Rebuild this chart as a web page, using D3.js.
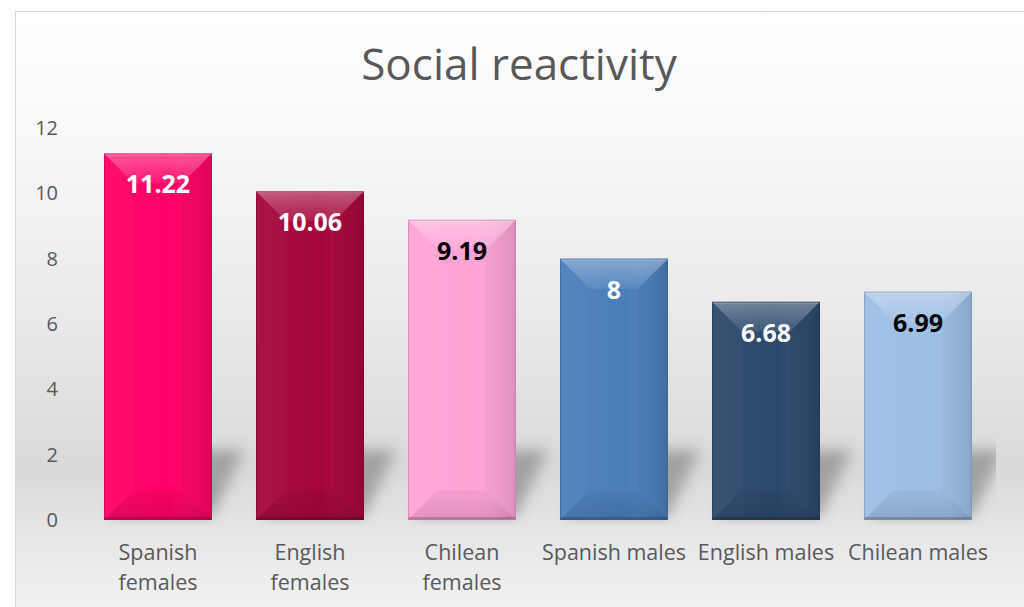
<!DOCTYPE html>
<html>
<head>
<meta charset="utf-8">
<script src="https://cdn.jsdelivr.net/npm/d3@7"></script>
<style>
  html, body { margin: 0; padding: 0; background: #ffffff; }
  svg { display: block; }
</style>
</head>
<body>
<script>
// ---- data ----
const categories = ["Spanish females", "English females", "Chilean females", "Spanish males", "English males", "Chilean males"];
const values = [11.22, 10.06, 9.19, 8, 6.68, 6.99];
const yTicks = [0, 2, 4, 6, 8, 10, 12];
const title = "Social reactivity";

// ---- styles ----
const barColors = ["#FF0066", "#A5053A", "#FFA3D7", "#4A7EBB", "#2B486B", "#9DBEE5"];
const labelColors = ["#ffffff", "#ffffff", "#000000", "#ffffff", "#ffffff", "#000000"];

const W = 1024, H = 607;
const svg = d3.select("body").append("svg").attr("width", W).attr("height", H);
const defs = svg.append("defs");

const bg = defs.append("linearGradient").attr("id", "bg").attr("x1", 0).attr("y1", 0).attr("x2", 0).attr("y2", 1);
[[0, "#ffffff"], [0.18, "#f9f9f9"], [0.5, "#e9e9e9"], [0.74, "#d9d9d9"], [0.86, "#e8e8e8"], [1, "#f4f4f4"]]
  .forEach(([o, c]) => bg.append("stop").attr("offset", o).attr("stop-color", c));

defs.append("filter").attr("id", "blur").attr("x", "-50%").attr("y", "-50%").attr("width", "200%").attr("height", "200%")
  .append("feGaussianBlur").attr("stdDeviation", 7);

const plotClip = defs.append("clipPath").attr("id", "plotclip");

// side gradient (subtle darkening to right)
const sideG = defs.append("linearGradient").attr("id", "side").attr("x1", 0).attr("y1", 0).attr("x2", 1).attr("y2", 0);
[[0, "#ffffff", 0.04], [0.6, "#ffffff", 0], [1, "#000000", 0.1]]
  .forEach(([o, c, a]) => sideG.append("stop").attr("offset", o).attr("stop-color", c).attr("stop-opacity", a));

const topG = defs.append("linearGradient").attr("id", "topbev").attr("x1", 0).attr("y1", 0).attr("x2", 0).attr("y2", 1);
[[0, "#ffffff", 0.32], [1, "#ffffff", 0.08]]
  .forEach(([o, c, a]) => topG.append("stop").attr("offset", o).attr("stop-color", c).attr("stop-opacity", a));
const botG = defs.append("linearGradient").attr("id", "botbev").attr("x1", 0).attr("y1", 0).attr("x2", 0).attr("y2", 1);
[[0, "#000000", 0.03], [1, "#000000", 0.12]]
  .forEach(([o, c, a]) => botG.append("stop").attr("offset", o).attr("stop-color", c).attr("stop-opacity", a));

// background + border
svg.append("rect").attr("x", 15.5).attr("y", 11.5).attr("width", 1040).attr("height", 620)
  .attr("fill", "url(#bg)").attr("stroke", "#d9d9d9").attr("stroke-width", 1);

const x = d3.scaleBand().domain(categories).range([82, 994]).paddingInner(0.29).paddingOuter(0.145);
const y = d3.scaleLinear().domain([0, 12]).range([520, 128]);

plotClip.append("rect").attr("x", 60).attr("y", 100).attr("width", 996 - 60).attr("height", 425);

// title
svg.append("text").attr("x", 519).attr("y", 80).attr("text-anchor", "middle")
  .attr("font-family", "'Open Sans', sans-serif").attr("font-size", 44).attr("fill", "#595959")
  .text(title);

// y axis (labels only)
const yAxis = d3.axisLeft(y).tickValues(yTicks).tickSize(0).tickPadding(0);
const yg = svg.append("g").attr("transform", "translate(58,0)").call(yAxis);
yg.select(".domain").remove();
yg.selectAll("text").attr("font-family", "'Open Sans', sans-serif").attr("font-size", 20).attr("fill", "#595959");

// shadows
const bw = x.bandwidth();
svg.append("g").attr("clip-path", "url(#plotclip)").selectAll("polygon").data(categories).join("polygon")
  .attr("points", (d, i) => {
    const x0 = x(d), x1 = x(d) + bw, yb = y(0) - 4, yt = y(0) - 70;
    return [[x0 + 6, yb], [x1, yb], [x1 + 32, yt], [x0 + 38, yt]].map(p => p.join(",")).join(" ");
  })
  .attr("fill", "#8a8a8a").attr("opacity", 0.7).attr("filter", "url(#blur)");

// bars
const bars = svg.append("g").selectAll("g").data(categories).join("g");
bars.each(function (d, i) {
  const g = d3.select(this);
  const x0 = x(d), x1 = x0 + bw, y0 = y(values[i]), y1 = y(0);
  const dd = Math.min(30, (y1 - y0) / 2);
  const c = barColors[i];
  g.append("rect").attr("x", x0).attr("y", y0).attr("width", bw).attr("height", y1 - y0).attr("fill", c);
  g.append("rect").attr("x", x0).attr("y", y0).attr("width", bw).attr("height", y1 - y0).attr("fill", "url(#side)");
  const poly = (pts, fill, op) => g.append("polygon").attr("points", pts.map(p => p.join(",")).join(" "))
    .attr("fill", fill).attr("opacity", op);
  // top bevel (lighter)
  poly([[x0, y0], [x1, y0], [x1 - dd, y0 + dd], [x0 + dd, y0 + dd]], "url(#topbev)", 1);
  // left bevel
  poly([[x0, y0], [x0 + dd, y0 + dd], [x0 + dd, y1 - dd], [x0, y1]], "#ffffff", 0.02);
  // right bevel
  poly([[x1, y0], [x1 - dd, y0 + dd], [x1 - dd, y1 - dd], [x1, y1]], "#000000", 0.03);
  // bottom bevel
  poly([[x0, y1], [x1, y1], [x1 - dd, y1 - dd], [x0 + dd, y1 - dd]], "url(#botbev)", 1);
  // top highlight line
  g.append("rect").attr("x", x0).attr("y", y0).attr("width", bw).attr("height", 2).attr("fill", "#ffffff").attr("opacity", 0.2);
  // bottom dark line
  g.append("rect").attr("x", x0).attr("y", y1 - 3).attr("width", bw).attr("height", 3).attr("fill", "#000000").attr("opacity", 0.18);
  // outline
  g.append("rect").attr("x", x0 + 0.5).attr("y", y0 + 0.5).attr("width", bw - 1).attr("height", y1 - y0 - 1)
    .attr("fill", "none").attr("stroke", d3.color(c).darker(0.8)).attr("stroke-opacity", 0.6).attr("stroke-width", 1);
  // value label
  g.append("text").attr("x", x0 + bw / 2).attr("y", y0 + 40).attr("text-anchor", "middle")
    .attr("font-family", "'Open Sans', sans-serif").attr("font-weight", "bold").attr("font-size", 25)
    .attr("fill", labelColors[i]).text(values[i]);
});

// x axis labels (wrapped within band step)
const xAxis = d3.axisBottom(x).tickSize(0).tickPadding(0);
const xg = svg.append("g").attr("transform", "translate(0,540)").call(xAxis);
xg.select(".domain").remove();
xg.selectAll("text").attr("font-family", "'Open Sans', sans-serif").attr("font-size", 21.5).attr("fill", "#595959")
  .attr("dy", null).attr("y", 20)
  .each(function (d) {
    const t = d3.select(this);
    const full = t.text();
    if (this.getComputedTextLength() > x.step() - 6) {
      const words = full.split(" ");
      t.text(null);
      t.append("tspan").attr("x", 0).attr("y", 20).text(words[0]);
      t.append("tspan").attr("x", 0).attr("y", 50).text(words.slice(1).join(" "));
    }
  });
</script>
</body>
</html>
